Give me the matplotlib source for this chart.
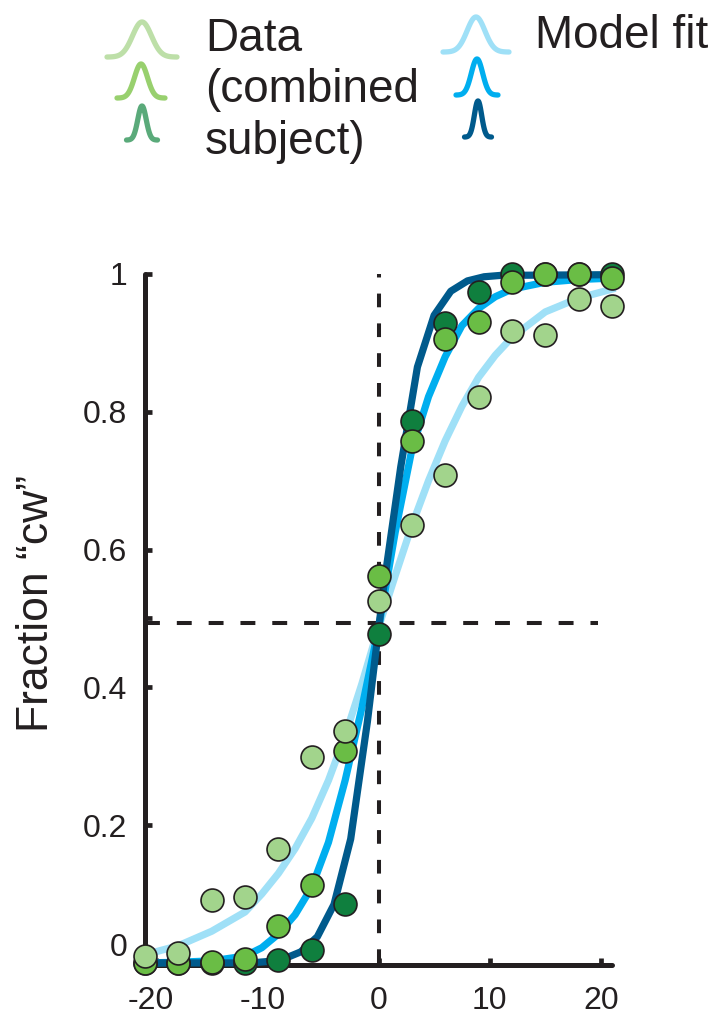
import numpy as np
import matplotlib

matplotlib.use("Agg")
import matplotlib.pyplot as plt
from matplotlib.transforms import ScaledTranslation

plt.rcParams["font.family"] = ["Liberation Sans", "DejaVu Sans"]
plt.rcParams["axes.unicode_minus"] = False

INK = "#231f20"

# stimulus orientations (deg) and fraction "cw" per noise level
x_stim = [-21, -18, -15, -12, -9, -6, -3, 0, 3, 6, 9, 12, 15, 18, 21]
frac_light = [0.010, 0.015, 0.091, 0.095, 0.166, 0.299, 0.336, 0.525, 0.635, 0.708, 0.822, 0.917, 0.911, 0.964, 0.953]
frac_mid = [0.0, 0.0, 0.002, 0.005, 0.053, 0.113, 0.308, 0.562, 0.757, 0.905, 0.931, 0.989, 1.0, 1.0, 0.994]
frac_dark = [0.0, 0.0, 0.0, 0.0, 0.004, 0.019, 0.086, 0.478, 0.786, 0.929, 0.974, 1.0, 1.0, 1.0, 1.0]

# model fit curves
fit_x = [-21, -18, -15, -12, -10.5, -9, -7.5, -6, -4.5, -3, -1.5, 0,
         1.5, 3, 4.5, 6, 7.5, 9, 10.5, 12, 15, 18, 21]
fit_light = [0.012, 0.025, 0.046, 0.074, 0.100, 0.130, 0.166, 0.210, 0.265, 0.330, 0.405, 0.487,
             0.562, 0.635, 0.700, 0.758, 0.808, 0.850, 0.882, 0.908, 0.945, 0.965, 0.978]
fit_mid = [0.0, 0.001, 0.003, 0.010, 0.022, 0.042, 0.070, 0.110, 0.175, 0.265, 0.370, 0.485,
           0.625, 0.745, 0.822, 0.880, 0.925, 0.950, 0.967, 0.978, 0.988, 0.992, 0.994]
fit_dark_x = [-21, -11.5, -10, -8.5, -7, -5.5, -4, -2.5, -1, 0.5, 2, 3.5, 5, 6.5, 8, 9.5, 11, 21]
fit_dark = [0.0, 0.0, 0.002, 0.006, 0.016, 0.038, 0.085, 0.180, 0.350, 0.550, 0.720, 0.865,
            0.940, 0.975, 0.990, 0.996, 0.998, 0.999]

ref_level = 0.494

xticks = [-20, -10, 0, 10, 20]
yticks = [0.2, 0.4, 0.5, 0.6, 0.8, 1]
ytick_labels = ["0.2", "0.4", "", "0.6", "0.8", "1"]

dot_colors = ["#0f7f3e", "#6abd45", "#a2d48c"]
fit_colors = ["#9fe0f7", "#00aeef", "#005a8c"]
legend_data_colors = ["#bddfa8", "#98d06e", "#5aaa7a"]

W, H = 718, 1031
fig = plt.figure(figsize=(W / 100, H / 100), dpi=100)
ax = fig.add_axes([145 / W, (H - 965) / H, 467 / W, 691 / H])

ax.plot([x_stim[0], 19.7], [ref_level, ref_level], color=INK, lw=2.9,
        dashes=(3.7, 4.2), zorder=1, clip_on=False)
ax.plot([0, 0], [0, 1], color=INK, lw=2.9, dashes=(3.4, 4.0), zorder=1, clip_on=False)

ax.plot(fit_x, fit_light, color=fit_colors[0], lw=5.2, zorder=2, clip_on=False)
ax.plot(fit_x, fit_mid, color=fit_colors[1], lw=5.2, zorder=3, clip_on=False)
ax.plot(fit_dark_x, fit_dark, color=fit_colors[2], lw=5.2, zorder=4, clip_on=False)

for i, ys in enumerate([frac_dark, frac_mid, frac_light]):
    ax.plot(x_stim, ys, "o", ms=16.5, mfc=dot_colors[i], mec=INK, mew=1.2,
            zorder=5 + i, clip_on=False)

ax.set_xlim(-21, 21)
ax.set_ylim(-0.003, 1.0)
for s in ["top", "right"]:
    ax.spines[s].set_visible(False)
for s in ["left", "bottom"]:
    ax.spines[s].set_linewidth(3.6)
    ax.spines[s].set_color(INK)
    ax.spines[s].set_capstyle("round")

ax.set_xticks(xticks)
ax.set_xticklabels([str(t) for t in xticks])
ax.set_yticks(yticks)
ax.set_yticklabels(ytick_labels)
ax.tick_params(direction="in", length=5, width=3.4, color=INK, labelcolor=INK,
               labelsize=23)
ax.tick_params(axis="x", pad=15)
ax.tick_params(axis="y", pad=13)

# shift negative x labels so the digits sit under the tick
for lab, t in zip(ax.get_xticklabels(), xticks):
    if t < 0:
        lab.set_transform(lab.get_transform() + ScaledTranslation(-5 / 100, 0, fig.dpi_scale_trans))

ax.text(-0.0385, 0.022, "0", transform=ax.get_yaxis_transform(), ha="right", va="center",
        fontsize=23, color=INK)

fig.text(37 / W, 1 - 603 / H, "Fraction \u201ccw\u201d", rotation=90, ha="center", va="center",
         fontsize=32, color=INK)

# legend drawn in pixel coordinates
leg = fig.add_axes([0, 0, 1, 1])
leg.set_xlim(0, W)
leg.set_ylim(H, 0)
leg.axis("off")


def bump(cx, top, bottom, width, color):
    u = np.linspace(-1, 1, 100)
    sig = 0.27
    g = np.exp(-0.5 * (u / sig) ** 2)
    g = (g - g.min()) / (g.max() - g.min())
    leg.plot(cx + u * width / 2, bottom - g * (bottom - top), color=color, lw=3.8,
             solid_capstyle="round", solid_joinstyle="round")


data_bumps = [(142, 22, 57, 70), (141, 64, 98, 48), (142, 106, 140, 31)]
model_bumps = [(476, 17, 52, 66), (477, 59, 95, 42), (478, 101, 137, 27)]
for (cx, t, b, w), c in zip(data_bumps, legend_data_colors):
    bump(cx, t, b, w, c)
for (cx, t, b, w), c in zip(model_bumps, fit_colors):
    bump(cx, t, b, w, c)

leg.text(205, 17, "Data\n(combined\nsubject)", ha="left", va="top", fontsize=33,
         color=INK, linespacing=1.22)
leg.text(535, 14, "Model fit", ha="left", va="top", fontsize=33, color=INK)

fig.savefig("out.png", dpi=100)
